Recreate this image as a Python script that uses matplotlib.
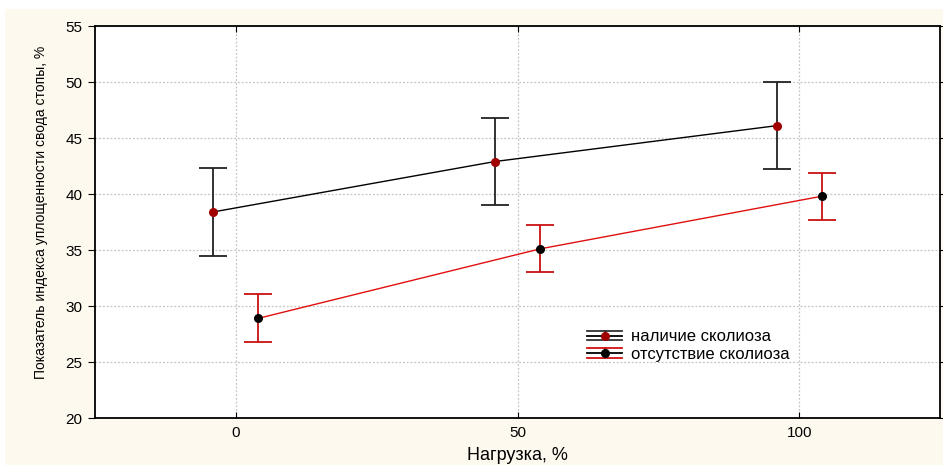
import matplotlib.pyplot as plt
from matplotlib.patches import Rectangle
from matplotlib.lines import Line2D
from matplotlib.legend_handler import HandlerBase

# data
load = [0, 50, 100]
offset = 4
scoliosis_mean = [38.4, 42.9, 46.1]
scoliosis_err = [3.9, 3.9, 3.9]
no_scoliosis_mean = [28.9, 35.1, 39.8]
no_scoliosis_err = [2.15, 2.1, 2.1]
labels = ['наличие сколиоза', 'отсутствие сколиоза']

W, H = 943, 466
plt.rcParams['font.family'] = ['Liberation Sans', 'DejaVu Sans']


class SideBar(HandlerBase):
    # statistica-like legend key: three horizontal lines, a stem and a dot
    def __init__(self, ecolor, dotcolor):
        super().__init__()
        self.ecolor = ecolor
        self.dotcolor = dotcolor

    def create_artists(self, legend, orig_handle, xd, yd, width, height, fontsize, trans):
        cy = yd + height / 2
        gap = height * 0.42
        arts = []
        for dy in (-gap, gap):
            arts.append(Line2D([xd, xd + width], [cy + dy, cy + dy], color=self.ecolor, lw=1.3))
        arts.append(Line2D([xd, xd + width], [cy, cy], color='black', lw=1.3))
        mid = xd + width / 2
        arts.append(Line2D([mid, mid], [cy - gap, cy + gap], color=self.ecolor, lw=1.3))
        arts.append(Line2D([mid], [cy], marker='o', ms=5.5, color=self.dotcolor, lw=0))
        for a in arts:
            a.set_transform(trans)
        return arts


fig = plt.figure(figsize=(W / 100, H / 100), dpi=100)
fig.patch.set_facecolor('white')
fig.patches.append(Rectangle((5 / W, 1 / H), 1 - 5 / W, 1 - 10 / H,
                             transform=fig.transFigure, facecolor='#fef9ee',
                             edgecolor='none', zorder=-10))

ax = fig.add_axes([95 / W, 1 - 418 / H, 845 / W, 392 / H])
ax.set_facecolor('white')

x1 = [v - offset for v in load]
x2 = [v + offset for v in load]

ax.plot(x1, scoliosis_mean, color='black', lw=1, zorder=3)
ax.errorbar(x1, scoliosis_mean, yerr=scoliosis_err, fmt='o', color='#222222',
            ecolor='#222222', elinewidth=1.3, capsize=10, capthick=1.3,
            ms=5.5, mfc='#a00000', mec='#a00000', zorder=4)

ax.plot(x2, no_scoliosis_mean, color='#e01010', lw=1, zorder=3)
ax.errorbar(x2, no_scoliosis_mean, yerr=no_scoliosis_err, fmt='o', color='#c81010',
            ecolor='#c81010', elinewidth=1.3, capsize=10, capthick=1.3,
            ms=5.5, mfc='black', mec='black', zorder=4)

ax.set_xlim(-25, 125)
ax.set_ylim(20, 55)
ax.set_xticks(load)
ax.set_yticks(range(20, 56, 5))
ax.grid(True, color='#c4c4c4', ls=(0, (1.5, 1.5)), lw=0.9)
ax.set_axisbelow(True)

ax.tick_params(axis='y', direction='out', length=5, labelsize=11, pad=4, right=True)
ax.tick_params(axis='x', direction='in', length=4, labelsize=11, pad=6, top=True)
for s in ax.spines.values():
    s.set_linewidth(1.3)

ax.set_xlabel('Нагрузка, %', fontsize=13, labelpad=5)
ax.set_ylabel('Показатель индекса уплощенности свода стопы, %', fontsize=10)
ax.yaxis.set_label_coords(-0.056, 0.5255)

k1, k2 = Line2D([], []), Line2D([], [])
ax.legend([k1, k2], labels, loc='lower left', bbox_to_anchor=(0.565, 0.105),
          frameon=False, fontsize=12, handlelength=2.1, handletextpad=0.5,
          labelspacing=0.15,
          handler_map={k1: SideBar('#333333', '#a00000'), k2: SideBar('#d01010', 'black')})

fig.savefig('out.png', dpi=100)
